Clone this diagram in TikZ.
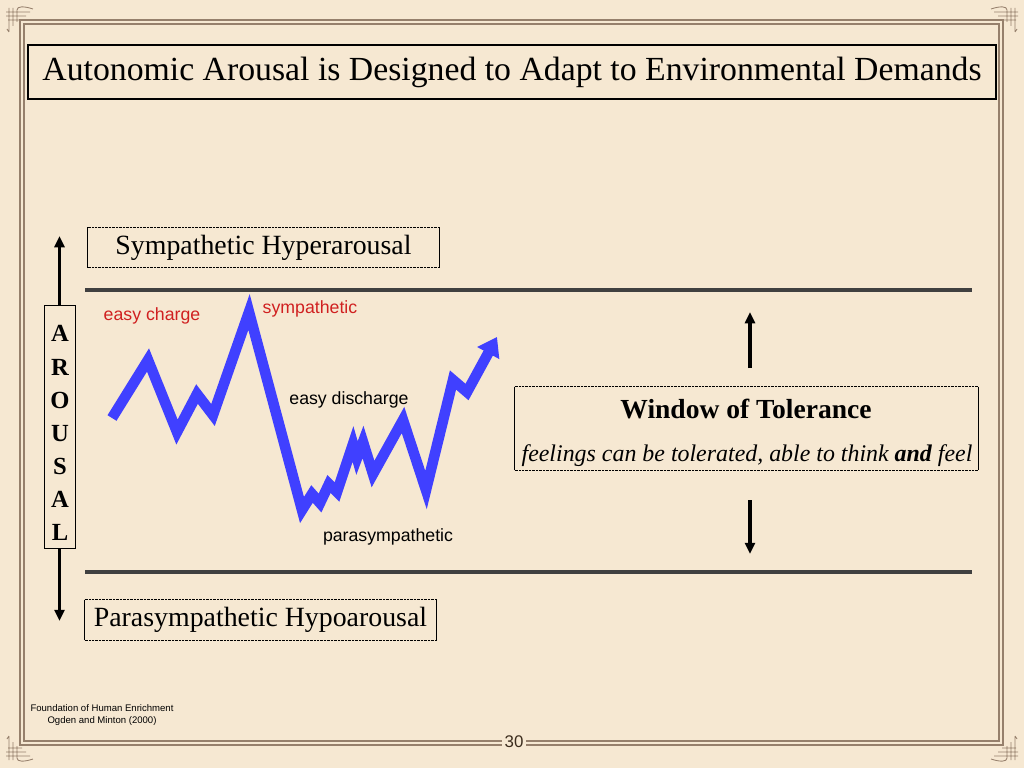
\documentclass[tikz,border=0pt]{standalone}
\usepackage{fontspec}
\setmainfont{Liberation Serif}
\setsansfont{Liberation Sans}
\usetikzlibrary{positioning,arrows.meta}

\definecolor{paper}{RGB}{246,232,210}
\definecolor{framec}{RGB}{150,128,108}
\definecolor{barc}{RGB}{64,64,64}
\definecolor{zig}{RGB}{64,64,255}
\definecolor{lblred}{RGB}{208,32,32}
\definecolor{pagec}{RGB}{60,45,30}

\begin{document}
\begin{tikzpicture}[x=0.025cm,y=-0.025cm,
    titlebox/.style={draw,line width=1.4pt,minimum width=24.2cm,minimum height=1.35cm,inner sep=0pt,
      font=\fontsize{24}{28}\selectfont},
    levelbox/.style={minimum width=8.775cm,minimum height=1.0cm,inner sep=0pt,
      font=\fontsize{19.8}{24}\selectfont},
    tag/.style={inner sep=0pt,font=\sffamily\fontsize{12.6}{15}\selectfont},
    bar/.style={barc,line width=3.5pt},
    vert/.style={line width=2.4pt,-{Triangle[length=8pt,width=7pt]}},
    zigline/.style={zig,line width=7.5pt,line join=miter,miter limit=20,
      -{Triangle[length=13pt,width=17pt]}}]
  % box with dotted top and bottom, solid sides
  \def\dotframe#1{%
    \draw[line width=0.6pt,dash pattern=on 0.5pt off 0.5pt]
      (#1.north west) -- (#1.north east) (#1.south west) -- (#1.south east);
    \draw[line width=1.1pt] (#1.north west) -- (#1.south west) (#1.north east) -- (#1.south east);}
  % corner ornament
  \def\ornament{%
    \draw[framec,line width=0.6pt]
      (9,8) -- (9,32) (13,8) -- (13,26) (17,10) -- (17,22)
      (6,12) -- (30,12) (6,16) -- (26,16) (8,20) -- (22,20)
      (17,10) .. controls (17,6) and (24,6) .. (33,9)
      (9,32) -- (7,29);}

  % paper and frame
  \useasboundingbox (0,0) rectangle (1024,768);
  \fill[paper] (0,0) rectangle (1024,768);
  \draw[framec,line width=0.8pt] (20,20) rectangle (1003,745);
  \draw[framec,line width=1.4pt] (24,24) rectangle (999,741);
  \ornament
  \begin{scope}[shift={(1024,0)},xscale=-1] \ornament \end{scope}
  \begin{scope}[shift={(0,768)},yscale=-1] \ornament \end{scope}
  \begin{scope}[shift={(1024,768)},scale=-1] \ornament \end{scope}

  % title
  \node[titlebox] (title) at (512,72) {Autonomic Arousal is Designed to Adapt to Environmental Demands};

  % levels
  \node[levelbox] (hyper) at (263.5,247.5) {Sympathetic Hyperarousal};
  \dotframe{hyper}
  \node[levelbox] (hypo) at (260.5,620) {Parasympathetic Hypoarousal};
  \dotframe{hypo}
  \draw[bar] (85,290) -- (972,290);
  \draw[bar] (85,572) -- (972,572);

  % arousal axis
  \node[draw,line width=0.5pt,minimum width=0.775cm,minimum height=6.075cm,inner sep=0pt] (arousal) at (59.5,426.5) {};
  \node[align=center,inner sep=0pt,font=\bfseries\fontsize{17.5}{23.5}\selectfont] (letters) at (60,433)
    {A\\R\\O\\U\\S\\A\\L};
  \coordinate (uptip) at (59.5,236);
  \coordinate (downtip) at (59.5,621);
  \draw[vert] (arousal.north) -- (uptip);
  \draw[vert] (arousal.south) -- (downtip);

  % window of tolerance
  \node[minimum width=11.575cm,minimum height=2.075cm,inner sep=0pt] (window) at (746.5,428.5) {};
  \dotframe{window}
  \node[font=\bfseries\fontsize{19.6}{24}\selectfont,inner sep=0pt] (wtitle) at (746,409) {Window of Tolerance};
  \node[font=\itshape\fontsize{17}{20}\selectfont,inner sep=0pt] (wtext) at (747,456)
    {feelings can be tolerated, able to think \textbf{and} feel};
  \coordinate (wup) at (750,368);
  \coordinate (wuptip) at (750,312);
  \coordinate (wdown) at (750,500);
  \coordinate (wdowntip) at (750,554);
  \draw[vert] (wup) -- (wuptip);
  \draw[vert] (wdown) -- (wdowntip);

  % arousal trace
  \draw[zigline] (112,418) -- (148,360) -- (177,432) -- (197,394) -- (213,415) -- (249,312)
    -- (302,510) -- (312,494) -- (320,503) -- (329,484) -- (337,492) -- (353,444)
    -- (357,458) -- (363,442) -- (373,474) -- (403,420) -- (426,490) -- (453,380)
    -- (467,392) -- (497,337);
  \node[tag,text=lblred] (charge) at (152,316) {easy charge};
  \node[tag,text=lblred] (symp) at (310,309) {sympathetic};
  \node[tag] (discharge) at (349,400) {easy discharge};
  \node[tag] (para) at (388,537) {parasympathetic};

  % footer
  \node[align=center,inner sep=0pt,font=\sffamily\fontsize{6.8}{8.5}\selectfont] (credit) at (102,715)
    {Foundation of Human Enrichment\\Ogden and Minton (2000)};
  \node[fill=paper,inner xsep=2pt,inner ysep=0pt,text=pagec,font=\sffamily\fontsize{12}{14}\selectfont] (pageno) at (514,742) {30};
\end{tikzpicture}
\end{document}
